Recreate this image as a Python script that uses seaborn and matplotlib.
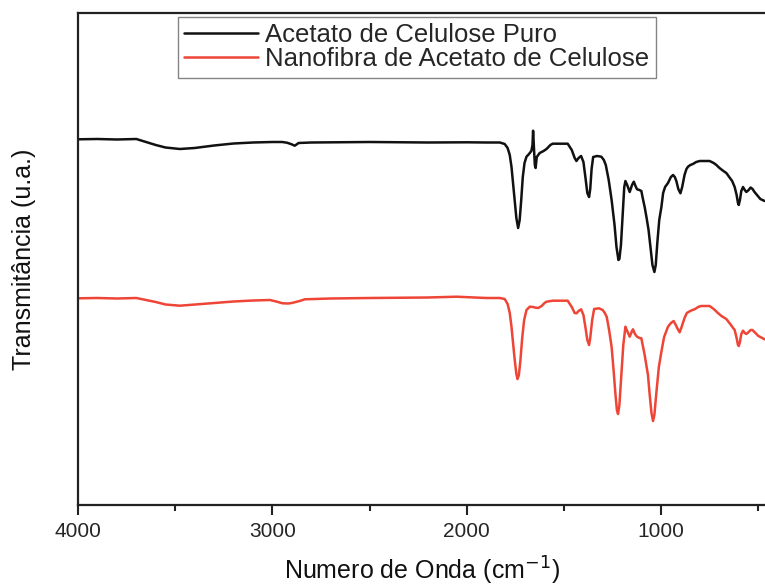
import numpy as np
import pandas as pd
import matplotlib
matplotlib.use("Agg")
import matplotlib.pyplot as plt
import seaborn as sns
from matplotlib.ticker import MultipleLocator

# Wavenumbers (cm^-1) and transmittance (arbitrary units)
wn_puro = [4000, 3900, 3800, 3700, 3650, 3600, 3550, 3476, 3400, 3300, 3200, 3100,
           3000, 2950, 2925, 2905, 2885, 2865, 2800, 2500, 2200, 2000, 1900, 1830,
           1805, 1790, 1779, 1770, 1762, 1754, 1745, 1736, 1728, 1720, 1712, 1703,
           1693, 1680, 1668, 1662, 1659, 1655, 1650, 1646, 1640, 1625, 1605, 1590,
           1570, 1558, 1481, 1460, 1445, 1436, 1425, 1412, 1400, 1390, 1380, 1371,
           1365, 1358, 1350, 1330, 1308, 1295, 1285, 1270, 1255, 1240, 1230, 1220,
           1215, 1207, 1198, 1190, 1184, 1175, 1162, 1150, 1141, 1130, 1124, 1112,
           1102, 1095, 1085, 1075, 1065, 1055, 1045, 1035, 1028, 1020, 1010, 999,
           990, 980, 965, 950, 939, 930, 922, 912, 901, 892, 880, 870, 862, 850,
           837, 820, 802, 770, 751, 730, 716, 700, 680, 665, 650, 635, 622, 612,
           605, 601, 595, 588, 579, 570, 562, 550, 540, 530, 520, 511, 490, 468]
t_puro = [365.7, 366, 365.5, 366, 363, 360, 357.5, 356, 357, 359.5, 361.5, 362.5,
          363, 363, 362.3, 361, 359.3, 362, 362.5, 363, 362.5, 362.7, 362.5, 362.5,
          361, 357, 350, 338, 322, 305, 287, 277, 285, 305, 328, 342,
          348.3, 351, 354, 360, 374.3, 358, 340, 337, 348, 352, 354, 356,
          360, 361.3, 361.3, 355, 347, 344, 347, 349, 343, 328, 312, 308,
          316, 336, 348, 349, 348.3, 345, 340, 325, 305, 280, 258, 245,
          246, 260, 290, 318, 324, 320, 313, 320, 323.3, 318, 315.7, 315,
          314, 307, 298, 287, 275, 258, 240, 233, 240, 262, 285, 298,
          312, 318, 322, 328, 330, 328, 324, 316, 311.7, 318, 330, 336, 338.3, 340,
          341, 343, 344, 344, 344, 342, 340, 337, 334, 332, 328, 324, 318, 310,
          302, 300, 305, 314, 318, 315, 313, 315, 317.5, 316, 313, 311, 306, 304]

wn_nano = [4000, 3900, 3800, 3700, 3650, 3600, 3550, 3476, 3400, 3300, 3200, 3100,
           3013, 2980, 2948, 2920, 2900, 2860, 2833, 2700, 2500, 2200, 2053, 1900,
           1830, 1805, 1790, 1779, 1770, 1762, 1754, 1745, 1739, 1732, 1724, 1715,
           1705, 1693, 1676, 1660, 1645, 1633, 1615, 1600, 1590, 1558, 1481, 1460,
           1445, 1436, 1425, 1412, 1400, 1390, 1380, 1371, 1365, 1355, 1345, 1320,
           1301, 1290, 1280, 1268, 1255, 1245, 1235, 1228, 1222, 1215, 1205, 1195,
           1184, 1175, 1162, 1150, 1145, 1135, 1124, 1112, 1102, 1095, 1085, 1075,
           1068, 1060, 1050, 1042, 1035, 1025, 1012, 999, 985, 965, 950, 936,
           925, 915, 905, 895, 880, 868, 857, 840, 828, 810, 795, 770, 751, 730,
           708, 690, 665, 645, 630, 622, 612, 605, 601, 595, 588, 579, 570, 562,
           550, 540, 531, 515, 500, 480, 468]
t_nano = [206.7, 207, 206.5, 207, 205, 203, 200.5, 199.3, 200.5, 202, 203.5, 204.5,
          205, 203.5, 201.7, 201.5, 202, 204, 205.7, 206.5, 207, 207.5, 208.3, 207,
          207, 206, 201, 192, 178, 162, 146, 131, 126, 130, 145, 167,
          185, 195, 198.3, 198, 197.3, 197, 199, 202, 203.3, 204.3, 204.3, 198,
          192, 191.7, 194, 195.7, 190, 178, 165, 160, 167, 185, 196, 196.7,
          195, 192, 188, 175, 158, 135, 110, 95, 91, 100, 130, 160,
          178.3, 174, 168.3, 174, 175.7, 171, 168.3, 167, 166.7, 160, 150, 138,
          130, 112, 92, 84, 90, 112, 138, 153.3, 168, 178.3, 182, 184,
          180, 176, 172.7, 178, 187, 192, 193.3, 195, 195.7, 198, 199, 199, 199, 196,
          192, 189, 186, 181, 177, 175, 167, 160, 159, 163, 171, 174.3, 172, 171,
          173, 175, 175, 172, 169, 167, 165.7]

labels = ["Acetato de Celulose Puro", "Nanofibra de Acetato de Celulose"]
colors = ["#111111", "#EF4536"]

sns.set_theme(style="white")
plt.rcParams['font.family'] = ['Liberation Sans', 'DejaVu Sans']

df = pd.concat([
    pd.DataFrame({"wn": wn_puro, "T": t_puro, "amostra": labels[0]}),
    pd.DataFrame({"wn": wn_nano, "T": t_nano, "amostra": labels[1]}),
])

fig = plt.figure(figsize=(7.65, 5.86), dpi=100)
ax = fig.add_axes([78/765, (586-505)/586, 1 - 78/765, (505-13)/586])

sns.lineplot(data=df, x="wn", y="T", hue="amostra", palette=colors,
             hue_order=labels, linewidth=1.8, ax=ax, estimator=None, sort=True)

ax.set_xlim(4000, 466)
ax.set_ylim(0, 492)
ax.xaxis.set_major_locator(MultipleLocator(1000))
ax.xaxis.set_minor_locator(MultipleLocator(500))
ax.set_yticks([])
ax.tick_params(axis='x', which='major', direction='out', length=7, width=1.5,
               color='#222222', labelsize=15, pad=5, bottom=True)
ax.tick_params(axis='x', which='minor', direction='out', length=4.5, width=1.5,
               color='#222222', bottom=True)
for s in ['left', 'bottom', 'top']:
    ax.spines[s].set_visible(True)
    ax.spines[s].set_linewidth(1.6)
    ax.spines[s].set_color('#222222')
ax.spines['right'].set_visible(False)

ax.set_xlabel("Numero de Onda (cm$^{-1}$)", fontsize=18, labelpad=10, color='#111111')
ax.set_ylabel("Transmitância (u.a.)", fontsize=18, labelpad=30, color='#111111')

leg = ax.legend(loc='upper left', bbox_to_anchor=((178-78)/687, (505-17)/492),
                borderaxespad=0, fontsize=18.5, frameon=True, fancybox=False,
                edgecolor='#666666', handlelength=2.85, handletextpad=0.3,
                labelspacing=0.0, borderpad=0.25, title=None)
leg.get_frame().set_linewidth(1.0)
for line in leg.get_lines():
    line.set_linewidth(1.8)

fig.savefig("out.png", dpi=100)
